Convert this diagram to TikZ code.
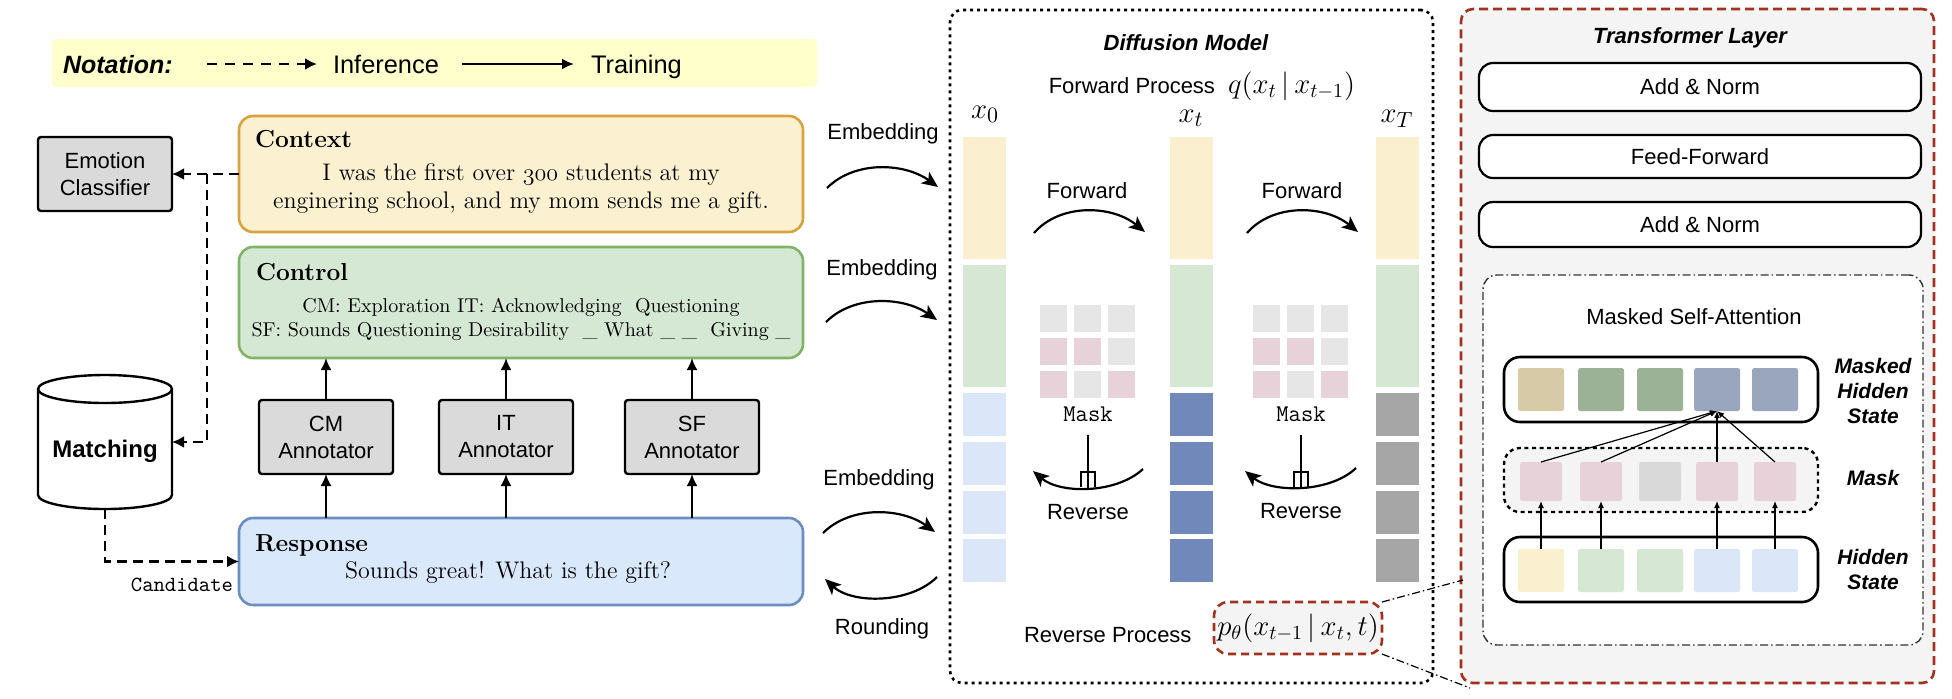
\documentclass[tikz,border=0pt]{standalone}
\usepackage{fontspec}
\newfontfamily\hv{Liberation Sans}
\usetikzlibrary{arrows.meta}
\definecolor{noteY}{HTML}{FFFFCC}
\definecolor{ctxF}{HTML}{FBF0D0}
\definecolor{ctxD}{HTML}{D8A23E}
\definecolor{ctlF}{HTML}{D5E8D4}
\definecolor{ctlD}{HTML}{82B366}
\definecolor{resF}{HTML}{DAE8FC}
\definecolor{resD}{HTML}{6C8EBF}
\definecolor{boxG}{HTML}{DADADA}
\definecolor{segY}{HTML}{FAF0CF}
\definecolor{segG}{HTML}{D6E7D4}
\definecolor{segBL}{HTML}{DBE6F8}
\definecolor{segBD}{HTML}{7089BA}
\definecolor{segGD}{HTML}{A6A6A6}
\definecolor{gridG}{HTML}{E6E6E6}
\definecolor{gridP}{HTML}{E8D2D9}
\definecolor{redD}{HTML}{A3311F}
\definecolor{tfF}{HTML}{F4F4F4}
\definecolor{mhT}{HTML}{D6CBA6}
\definecolor{mhG}{HTML}{9CB297}
\definecolor{mhB}{HTML}{9AA6BE}
\definecolor{mkG}{HTML}{D9D9D9}
\newcommand\fsz[2]{\fontsize{#1}{#2}\selectfont}
\newcommand\oldnum[1]{{\fontencoding{OML}\fontfamily{cmm}\fontseries{m}\fontshape{it}\selectfont #1}}
\newcommand\mybox[7]{\node[#6, minimum width={(#4-#2)*0.5pt}, minimum height={(#5-#3)*0.5pt}] (#1) at ({(#2+#4)/2},{(#3+#5)/2}) {#7};}
\tikzset{
 nb/.style={inner sep=0pt, outer sep=0pt},
 ctxbox/.style={nb, draw=ctxD, fill=ctxF, line width=1.3pt, rounded corners=7pt},
 ctlbox/.style={nb, draw=ctlD, fill=ctlF, line width=1.3pt, rounded corners=7pt},
 resbox/.style={nb, draw=resD, fill=resF, line width=1.3pt, rounded corners=7pt},
 graybox/.style={nb, draw=black, fill=boxG, line width=1.2pt, rounded corners=1.5pt, align=center, font=\hv\fsz{11}{13.5}},
 sans/.style={nb, anchor=base, font=\hv\fsz{11}{13}},
 titl/.style={nb, anchor=base west, font=\bfseries\fsz{12.3}{14}},
 body/.style={nb, anchor=base, font=\fsz{12}{14}},
 dasharr/.style={line width=1.2pt, dash pattern=on 5pt off 3pt, -{Latex[length=6pt,width=6pt]}},
 solarr/.style={line width=1.1pt, -{Latex[length=6pt,width=5.5pt]}},
 curvarr/.style={line width=1.1pt, -{Stealth[length=8pt,width=7pt,inset=2pt]}},
 seg/.style={nb, minimum width=21.5pt},
 gsq/.style={nb, minimum width=13.5pt, minimum height=13.5pt},
 mth/.style={nb, anchor=base, font=\fsz{14}{16}},
 rbox/.style={nb, draw=black, fill=white, line width=1.1pt, rounded corners=7pt, font=\hv\fsz{11}{13}},
 sq/.style={nb, rounded corners=1.2pt},
 tarr/.style={line width=0.6pt, -{Latex[length=3.5pt,width=3pt]}},
 rlab/.style={nb, align=center, font=\hv\bfseries\itshape\fsz{10.5}{12.5}},
 dashdot/.style={line width=0.6pt, dash pattern=on 4pt off 1.5pt on 0.8pt off 1.5pt},
}
\begin{document}
\begin{tikzpicture}[x=0.5pt,y=-0.5pt]
\useasboundingbox (0,0) rectangle (1952,698);
% ---------- notation ----------
\mybox{nota}{52}{39}{817}{87}{nb, fill=noteY, rounded corners=2pt}{}
\node[nb, anchor=base west, font=\hv\bfseries\itshape\fsz{12.5}{14}] (notaT) at (63,73) {Notation:};
\coordinate (ni1) at (207,64); \coordinate (ni2) at (317,64);
\draw[line width=1.2pt, dash pattern=on 5pt off 4pt, -{Latex[length=6pt,width=6pt]}] (ni1) -- (ni2);
\node[nb, anchor=base west, font=\hv\fsz{12.7}{14}] (infT) at (333,73) {Inference};
\coordinate (nt1) at (462,64); \coordinate (nt2) at (574,64);
\draw[solarr, line width=1.2pt] (nt1) -- (nt2);
\node[nb, anchor=base west, font=\hv\fsz{12.7}{14}] (trT) at (591,73) {Training};
% ---------- left part ----------
\mybox{ec}{38}{137}{172}{211}{graybox}{Emotion\\Classifier}
\mybox{ctx}{239}{116}{803}{232}{ctxbox}{}
\node[titl] (ctxT) at (255,147) {Context};
\node[body] (ctx1) at (521,180) {I was the first over \oldnum{300} students at my};
\node[body] (ctx2) at (521,208) {enginering school, and my mom sends me a gift.};
\mybox{ctl}{239}{247}{803}{358}{ctlbox}{}
\node[titl] (ctlT) at (256,280) {Control};
\node[body, font=\fsz{10}{12}] (ctl1) at (521,312) {CM: Exploration IT: Acknowledging~~Questioning};
\node[body, font=\fsz{10}{12}] (ctl2) at (521,336) {SF: Sounds Questioning Desirability~~\_ What \_ \_~~Giving \_};
\mybox{res}{239}{518}{803}{605}{resbox}{}
\node[titl] (resT) at (255,551) {Response};
\node[body] (res1) at (508,578) {Sounds great! What is the gift?};
\mybox{cm}{259}{400}{393}{474}{graybox}{CM\\Annotator}
\mybox{it}{439}{400}{573}{474}{graybox}{IT\\Annotator}
\mybox{sf}{625}{400}{759}{474}{graybox}{SF\\Annotator}
\foreach \n in {cm,it,sf} {
  \draw[solarr] (\n.south |- res.north) -- (\n.south);
  \draw[solarr] (\n.north) -- (\n.north |- ctl.south);
}
% cylinder
\draw[line width=1.2pt, fill=white] (38,389) -- (38,495) arc[start angle=180, end angle=360, x radius=33.5pt, y radius=7pt] -- (172,389) arc[start angle=0, end angle=180, x radius=33.5pt, y radius=7pt] -- cycle;
\draw[line width=1.2pt] (38,389) arc[start angle=180, end angle=360, x radius=33.5pt, y radius=7pt];
\node[nb, minimum width=67pt, minimum height=67pt] (match) at (105,442) {};
\node[nb, anchor=base, font=\hv\bfseries\fsz{12}{14}] (matchT) at (105,457) {Matching};
\coordinate (j1) at (207,174);
\draw[dasharr] (ctx.west) -- (ec.east);
\draw[dasharr] (j1) |- (match.east);
\draw[dasharr] (match.south) |- (res.west);
\node[nb, anchor=base east, font=\ttfamily\fsz{10.8}{12}] (cand) at (233,591) {Candidate};
% embedding arrows
\coordinate (e1a) at (827,188); \coordinate (e1b) at (938,187);
\draw[curvarr] (e1a) .. controls (855,160) and (905,163) .. (e1b);
\node[sans] (e1T) at (883,139) {Embedding};
\coordinate (e2a) at (826,322); \coordinate (e2b) at (937,320);
\draw[curvarr] (e2a) .. controls (854,294) and (904,297) .. (e2b);
\node[sans] (e2T) at (882,275) {Embedding};
\coordinate (e3a) at (823,533); \coordinate (e3b) at (935,532);
\draw[curvarr] (e3a) .. controls (851,505) and (902,508) .. (e3b);
\node[sans] (e3T) at (879,485) {Embedding};
\coordinate (rda) at (937,577); \coordinate (rdb) at (825,579);
\draw[curvarr] (rda) .. controls (910,604) and (852,604) .. (rdb);
\node[sans] (rdT) at (882,634) {Rounding};
% ---------- diffusion model ----------
\mybox{diff}{950}{10}{1433}{683}{nb, draw=black, line width=1.3pt, dash pattern=on 1.5pt off 2pt, rounded corners=6pt}{}
\node[nb, anchor=base, font=\hv\bfseries\itshape\fsz{11}{13}] (diffT) at (1186,50) {Diffusion Model};
\node[nb, anchor=base east, font=\hv\fsz{11}{13}] (fpT) at (1215,93) {Forward Process};
\node[mth, anchor=base west] (fpM) at (1228,93) {$q(x_t\,|\,x_{t-1})$};
\node[nb, anchor=base, font=\fsz{15}{17}] (lx0) at (985,118) {$x_0$};
\node[nb, anchor=base, font=\fsz{15}{17}] (lxt) at (1191,122) {$x_t$};
\node[nb, anchor=base, font=\fsz{15}{17}] (lxT) at (1397,122) {$x_T$};
\foreach \cx/\bc/\nm in {984.5/segBL/a, 1191.5/segBD/b, 1397.5/segGD/c} {
  \node[seg, fill=segY, minimum height=61pt] (\nm y) at (\cx,198) {};
  \node[seg, fill=segG, minimum height=61pt] (\nm g) at (\cx,326) {};
  \node[seg, fill=\bc, minimum height=21.5pt] (\nm b1) at (\cx,414.5) {};
  \node[seg, fill=\bc, minimum height=21.5pt] (\nm b2) at (\cx,463.5) {};
  \node[seg, fill=\bc, minimum height=21.5pt] (\nm b3) at (\cx,512.5) {};
  \node[seg, fill=\bc, minimum height=21.5pt] (\nm b4) at (\cx,560.5) {};
}
\coordinate (f1a) at (1034,233); \coordinate (f1b) at (1145,232);
\draw[curvarr] (f1a) .. controls (1060,203) and (1112,205) .. (f1b);
\node[sans] (f1T) at (1087,198) {Forward};
\coordinate (f2a) at (1247,233); \coordinate (f2b) at (1358,232);
\draw[curvarr] (f2a) .. controls (1273,203) and (1325,205) .. (f2b);
\node[sans] (f2T) at (1302,198) {Forward};
\foreach \gx/\gn in {1087.5/ga, 1300.5/gb} {
  \foreach \r/\ry/\ca/\cb/\cc in {1/318.5/gridG/gridG/gridG, 2/351.5/gridP/gridP/gridG, 3/384.5/gridP/gridG/gridP} {
    \node[gsq, fill=\ca] (\gn\r a) at ({\gx-34},\ry) {};
    \node[gsq, fill=\cb] (\gn\r b) at (\gx,\ry) {};
    \node[gsq, fill=\cc] (\gn\r c) at ({\gx+34},\ry) {};
  }
}
\foreach \mx/\mn in {1088/1, 1301/2} {
  \node[nb, anchor=base, font=\ttfamily\fsz{12}{14}] (mkT\mn) at (\mx,421) {Mask};
  \draw[line width=1.1pt] (\mx,435) -- (\mx,488);
  \draw[line width=1.1pt] ({\mx-7},487) -- ({\mx-7},472) -- ({\mx+7},472) -- ({\mx+7},487);
}
\coordinate (r1a) at (1143,469); \coordinate (r1b) at (1033,471);
\draw[curvarr] (r1a) .. controls (1116,494) and (1060,494) .. (r1b);
\node[sans] (r1T) at (1088,519) {Reverse};
\coordinate (r2a) at (1356,468); \coordinate (r2b) at (1245,471);
\draw[curvarr] (r2a) .. controls (1330,493) and (1272,493) .. (r2b);
\node[sans] (r2T) at (1301,518) {Reverse};
\node[sans, anchor=base west] (rpT) at (1024,642) {Reverse Process};
\mybox{pbox}{1214}{602}{1382}{654}{nb, draw=redD, fill=tfF, line width=1.3pt, dash pattern=on 4pt off 2.5pt, rounded corners=7pt}{}
\node[nb, font=\fsz{14}{16}] (pM) at (1298,628) {$p_\theta(x_{t-1}\,|\,x_t, t)$};
% ---------- transformer ----------
\mybox{tf}{1461}{9}{1934}{683}{nb, draw=redD, fill=tfF, line width=1.3pt, dash pattern=on 4.5pt off 2.5pt, rounded corners=6pt}{}
\node[nb, anchor=base, font=\hv\bfseries\itshape\fsz{11}{13}] (tfT) at (1690,43) {Transformer Layer};
\mybox{an1}{1479}{63}{1921}{111}{rbox}{Add \& Norm}
\mybox{ff}{1479}{135}{1921}{178}{rbox}{Feed-Forward}
\mybox{an2}{1479}{202}{1921}{247}{rbox}{Add \& Norm}
\mybox{msa}{1483}{275}{1923}{645}{nb, draw=black!80, fill=white, dashdot, line width=0.7pt, rounded corners=7pt}{}
\node[sans] (msaT) at (1694,324) {Masked Self-Attention};
\mybox{mhb}{1504}{357}{1818}{422}{nb, draw=black, fill=white, line width=1.3pt, rounded corners=8pt}{}
\mybox{mkb}{1504}{448}{1818}{512}{nb, draw=black, fill=tfF, line width=1.2pt, dash pattern=on 2pt off 1.8pt, rounded corners=8pt}{}
\mybox{hsb}{1504}{537}{1818}{602}{nb, draw=black, fill=white, line width=1.3pt, rounded corners=8pt}{}
\foreach \sx/\ca/\cb/\cc [count=\i] in {1541/mhT/gridP/segY, 1601/mhG/gridP/segG, 1660/mhG/mkG/segG, 1717/mhB/gridP/segBL, 1775/mhB/gridP/segBL} {
  \node[sq, fill=\ca, minimum width=23pt, minimum height=21.5pt] (mh\i) at (\sx,389.5) {};
  \node[sq, fill=\cb, minimum width=21pt, minimum height=19.5pt] (mk\i) at (\sx,481.5) {};
  \node[sq, fill=\cc, minimum width=23pt, minimum height=21.5pt] (hs\i) at (\sx,570.5) {};
}
\foreach \i in {1,2,4,5} {
  \draw[tarr] (hs\i.north) -- (mk\i.south);
  \draw[tarr] (mk\i.north) -- (mh4.south);
}
\node[rlab] (lmh) at (1873,391) {Masked\\Hidden\\State};
\node[rlab] (lmk) at (1873,478) {Mask};
\node[rlab] (lhs) at (1873,569.5) {Hidden\\State};
\coordinate (z1) at (1463,580); \coordinate (z2) at (1470,688);
\draw[dashdot] (pbox.north east) -- (z1);
\draw[dashdot] (pbox.south east) -- (z2);
\end{tikzpicture}
\end{document}
